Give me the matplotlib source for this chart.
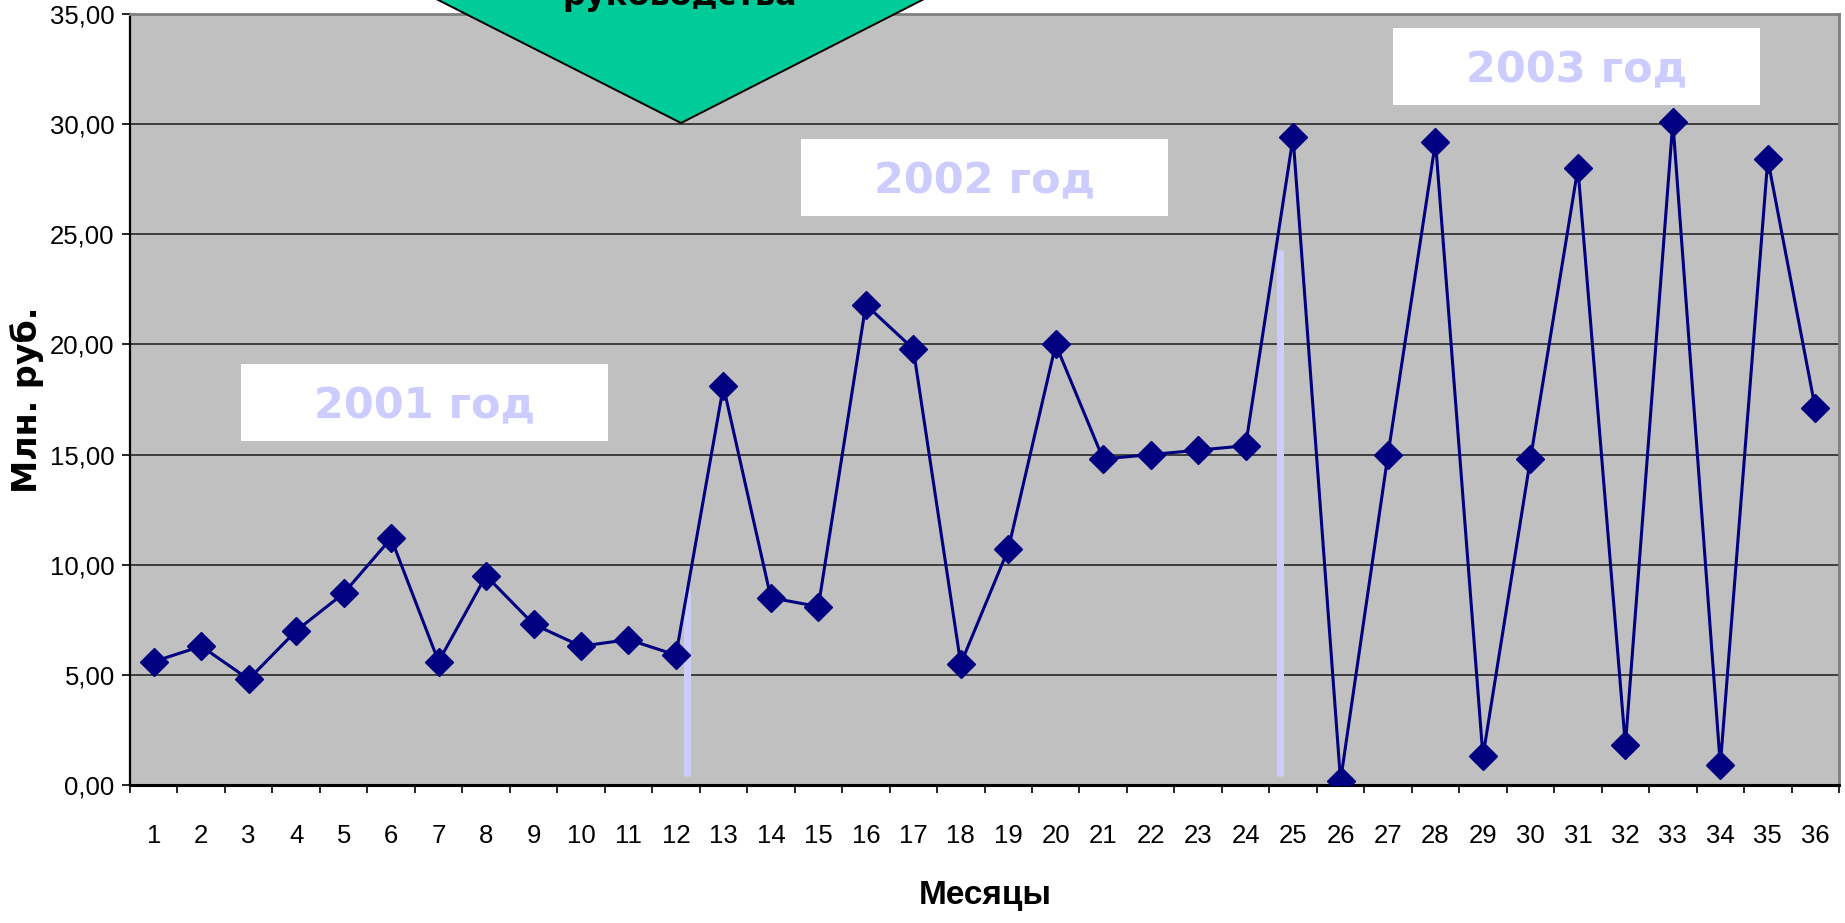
import numpy as np
import matplotlib
matplotlib.use("Agg")
import matplotlib.pyplot as plt
from matplotlib.patches import Polygon, Rectangle
from matplotlib.ticker import FuncFormatter, FixedLocator

# ежемесячные значения, млн. руб.
months = np.arange(1, 37)
values = [5.6, 6.3, 4.8, 7.0, 8.7, 11.2, 5.6, 9.5, 7.3, 6.3, 6.6, 5.9,
          18.1, 8.5, 8.1, 21.8, 19.8, 5.5, 10.7, 20.0, 14.8, 15.0, 15.2, 15.4,
          29.4, 0.2, 15.0, 29.2, 1.3, 14.8, 28.0, 1.8, 30.1, 0.9, 28.4, 17.1]
year_labels = ["2001 год", "2002 год", "2003 год"]
yticks = [0, 5, 10, 15, 20, 25, 30, 35]

W, H = 1845, 923
fig = plt.figure(figsize=(W / 100, H / 100), dpi=100)
ax = fig.add_axes([130 / W, 1 - 785 / H, 1709 / W, 771 / H])
ax.set_facecolor("#c0c0c0")

narrow = ["Liberation Sans Narrow", "Liberation Sans", "DejaVu Sans"]

ax.plot(months, values, color="#000080", lw=2.2, marker="D", ms=14,
        mfc="#000080", mec="#000080", zorder=5)

ax.set_xlim(0.5, 36.5)
ax.set_ylim(0, 35)
ax.xaxis.set_major_locator(FixedLocator(np.arange(0.5, 37, 1)))
ax.xaxis.set_minor_locator(FixedLocator(months))
ax.set_xticklabels([])
ax.set_xticklabels([str(m) for m in months], minor=True, family=narrow, fontsize=18.5)
ax.tick_params(axis="x", which="major", direction="out", length=6, width=1.2, color="black")
ax.tick_params(axis="x", which="minor", length=0, pad=28)
ax.set_yticks(yticks)
ax.yaxis.set_major_formatter(FuncFormatter(lambda v, p: f"{v:.2f}".replace(".", ",")))
for lab in ax.get_yticklabels():
    lab.set_family(narrow)
    lab.set_fontsize(18.5)
ax.tick_params(axis="y", direction="out", length=6, width=1.2, pad=5)

ax.set_axisbelow(True)
ax.grid(axis="y", color="#1a1a1a", lw=1.1)
ax.spines["top"].set_color("#808080")
ax.spines["top"].set_linewidth(2)
ax.spines["right"].set_color("#808080")
ax.spines["right"].set_linewidth(2)
ax.spines["left"].set_linewidth(1.6)
ax.spines["bottom"].set_linewidth(2.2)

# границы лет
ax.plot([12.24, 12.24], [0.4, 8.9], color="#ccccff", lw=5, solid_capstyle="butt", zorder=3)
ax.plot([24.72, 24.72], [0.4, 24.3], color="#ccccff", lw=5, solid_capstyle="butt", zorder=3)

# подписи лет в белых рамках
boxes = [(0.0650, 0.4462), (0.3926, 0.7380), (0.7390, 0.8820)]
for (bx, by), txt in zip(boxes, year_labels):
    ax.add_patch(Rectangle((bx, by), 0.2147, 0.0999, transform=ax.transAxes,
                           facecolor="white", edgecolor="none", zorder=4))
    ax.text(bx + 0.2147 / 2, by + 0.0292, txt, transform=ax.transAxes,
            ha="center", va="baseline", fontsize=31, fontweight="bold",
            color="#ccccff", family="DejaVu Sans", zorder=4.5)

# стрелка-выноска сверху (текст уходит за верхний край, как в оригинале)
pts = [(379, -30), (681, 123), (981, -30)]
arrow = Polygon([(x / W, 1 - y / H) for x, y in pts], closed=True,
                transform=fig.transFigure, facecolor="#00cc99",
                edgecolor="black", lw=1.4, zorder=6, clip_on=False)
fig.patches.append(arrow)
fig.text(680 / W, 1 - 5 / H, "руководства", ha="center", va="baseline",
         fontsize=23, fontweight="bold", family="DejaVu Sans", color="black", zorder=7)

fig.text(985 / W, 1 - 904 / H, "Месяцы", ha="center", va="baseline",
         fontsize=24, fontweight="bold", family=["Liberation Sans", "DejaVu Sans"])
fig.text(27 / W, 1 - 400 / H, "Млн. руб.", ha="center", va="center", rotation=90,
         fontsize=24, fontweight="bold", family="DejaVu Sans")

fig.savefig("out.png", dpi=100)
